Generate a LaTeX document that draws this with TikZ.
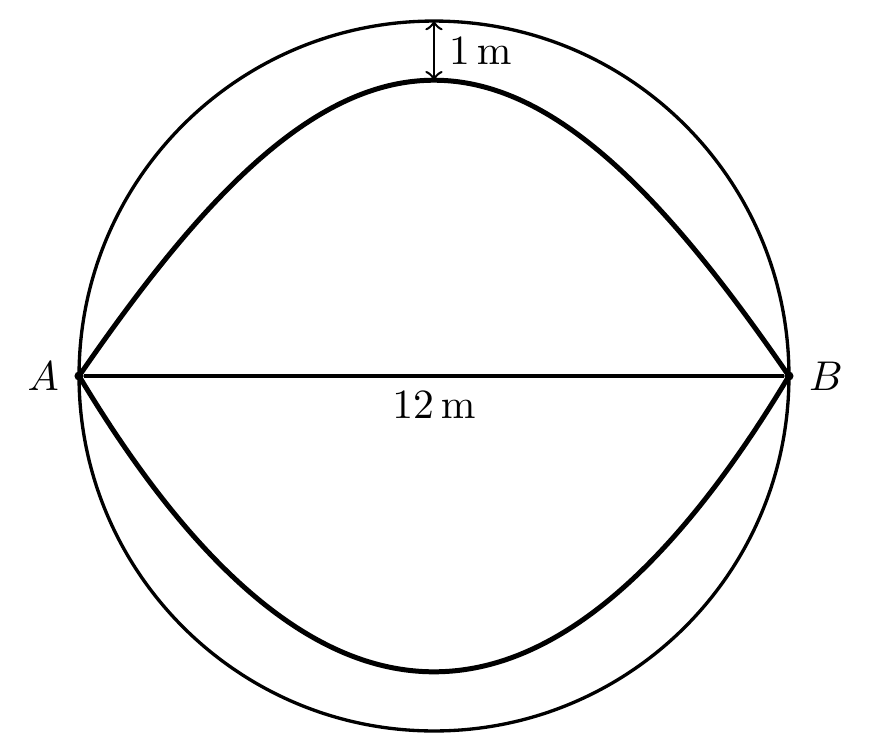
\documentclass[tikz,border=0pt]{standalone}

\begin{document}
\begin{tikzpicture}[x=0.5cm,y=0.5cm,dot/.style={circle,fill,inner sep=0pt,minimum size=2.2pt}]
	\useasboundingbox (-7.336,-6.39) rectangle (7.404,6.356);
	\draw [thick] (0,0) circle (6);
	\node [dot] (A) at (-6,0) {};
	\node [dot] (B) at (6,0) {};
	\draw [very thick,domain=-6:6,samples=80,smooth] plot (\x,{3*cos(15*\x)+2*(1-\x*\x/36)});
	\draw [very thick,domain=-6:6,samples=80,smooth] plot (\x,{-5*(1-\x*\x/36)});
	\draw [thick] (A) -- (B) node[midway,below] (len) {$12\,\mathrm{m}$};
	\node [left] (labA) at (A.west) {$A$};
	\node [right] (labB) at (B.east) {$B$};
	\coordinate (top) at (0,6);
	\coordinate (peak) at (0,5);
	\draw [semithick,<->] (top) -- (peak) node[midway,right] (gap) {$1\,\mathrm{m}$};
\end{tikzpicture}
\end{document}
